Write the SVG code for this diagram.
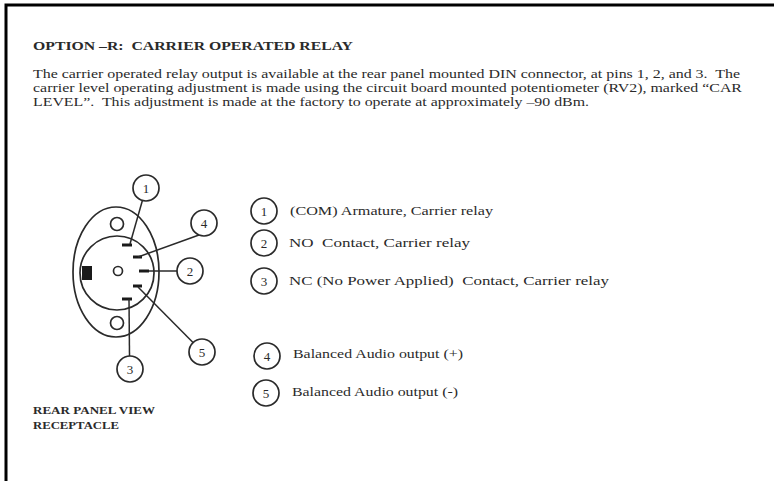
<svg xmlns="http://www.w3.org/2000/svg" width="774" height="481" viewBox="0 0 774 481" xml:space="preserve">
<style>
text{font-family:"Liberation Serif","Times New Roman",serif;fill:#2a2a2a;white-space:pre}
.t{font-size:12.5px;font-weight:bold}
.p{font-size:12.5px}
.lg{font-size:12.5px}
.rp{font-size:9.5px;font-weight:bold}
.num{font-size:13px;text-anchor:middle}
.ring{fill:none;stroke:#2a2a2a;stroke-width:1.7}
.ln{stroke:#2a2a2a;stroke-width:1.5;fill:none}
.pin{stroke:#1a1a1a;stroke-width:3}
</style>
<rect width="774" height="481" fill="#fff"/>
<path d="M6 481 V5 H774" fill="none" stroke="#000" stroke-width="3"/>
<text class="t" x="33" y="50" textLength="320" lengthAdjust="spacingAndGlyphs">OPTION –R:  CARRIER OPERATED RELAY</text>
<text class="p" x="33" y="78" textLength="707" lengthAdjust="spacingAndGlyphs">The carrier operated relay output is available at the rear panel mounted DIN connector, at pins 1, 2, and 3.  The</text>
<text class="p" x="33" y="92" textLength="709" lengthAdjust="spacingAndGlyphs">carrier level operating adjustment is made using the circuit board mounted potentiometer (RV2), marked “CAR</text>
<text class="p" x="33" y="106" textLength="556" lengthAdjust="spacingAndGlyphs">LEVEL”.  This adjustment is made at the factory to operate at approximately –90 dBm.</text>
<g id="connector">
<ellipse class="ring" cx="116" cy="272" rx="43" ry="65"/>
<circle class="ring" cx="117" cy="273" r="37"/>
<circle class="ring" cx="117" cy="224" r="6.5"/>
<circle class="ring" cx="117" cy="323" r="6.5"/>
<circle class="ring" cx="118" cy="271" r="4.5"/>
<rect x="82" y="266" width="10" height="14" fill="#1a1a1a"/>
<line class="pin" x1="122" y1="245" x2="132" y2="245"/>
<line class="pin" x1="133" y1="257" x2="142" y2="257"/>
<line class="pin" x1="139" y1="271" x2="149" y2="271"/>
<line class="pin" x1="133" y1="286" x2="142" y2="286"/>
<line class="pin" x1="122" y1="299" x2="132" y2="299"/>
</g>
<g id="connectors">
<line class="ln" x1="142.4" y1="200.5" x2="130" y2="244"/>
<line class="ln" x1="199" y1="235" x2="138" y2="257"/>
<line class="ln" x1="149" y1="271" x2="177" y2="271"/>
<line class="ln" x1="138" y1="287" x2="193" y2="342.5"/>
<line class="ln" x1="129" y1="299" x2="129.5" y2="356"/>
</g>
<g id="callout1"><circle class="ring" cx="146" cy="188" r="13"/><text class="num" x="146" y="192.5">1</text></g>
<g id="callout4"><circle class="ring" cx="204" cy="223" r="13"/><text class="num" x="204" y="227.5">4</text></g>
<g id="callout2"><circle class="ring" cx="190" cy="271" r="13"/><text class="num" x="190" y="275.5">2</text></g>
<g id="callout5"><circle class="ring" cx="202" cy="352" r="13"/><text class="num" x="202" y="356.5">5</text></g>
<g id="callout3"><circle class="ring" cx="130" cy="369" r="13"/><text class="num" x="130" y="373.5">3</text></g>
<g id="label-rear">
<text class="rp" x="33" y="414" textLength="122" lengthAdjust="spacingAndGlyphs">REAR PANEL VIEW</text>
<text class="rp" x="33" y="429" textLength="86" lengthAdjust="spacingAndGlyphs">RECEPTACLE</text>
</g>
<g id="legend1"><circle class="ring" cx="264" cy="211" r="13"/><text class="num" x="264" y="215.5">1</text><text class="lg" x="290" y="215" textLength="203" lengthAdjust="spacingAndGlyphs">(COM) Armature, Carrier relay</text></g>
<g id="legend2"><circle class="ring" cx="264" cy="243" r="13"/><text class="num" x="264" y="247.5">2</text><text class="lg" x="289" y="247" textLength="181" lengthAdjust="spacingAndGlyphs">NO  Contact, Carrier relay</text></g>
<g id="legend3"><circle class="ring" cx="264" cy="281" r="13"/><text class="num" x="264" y="285.5">3</text><text class="lg" x="289" y="285" textLength="320" lengthAdjust="spacingAndGlyphs">NC (No Power Applied)  Contact, Carrier relay</text></g>
<g id="legend4"><circle class="ring" cx="267" cy="356" r="13"/><text class="num" x="267" y="360.5">4</text><text class="lg" x="293" y="358" textLength="170" lengthAdjust="spacingAndGlyphs">Balanced Audio output (+)</text></g>
<g id="legend5"><circle class="ring" cx="266" cy="393" r="13"/><text class="num" x="266" y="397.5">5</text><text class="lg" x="292" y="396" textLength="166" lengthAdjust="spacingAndGlyphs">Balanced Audio output (-)</text></g>
</svg>
